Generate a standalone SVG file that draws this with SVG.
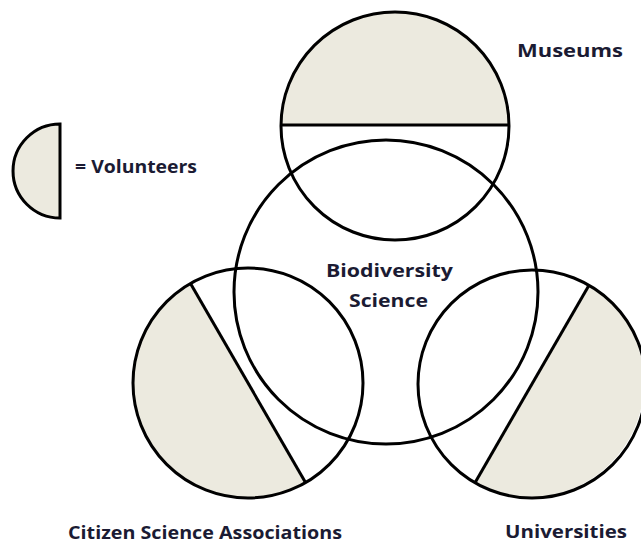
<svg xmlns="http://www.w3.org/2000/svg" width="641" height="546" viewBox="0 0 641 546">
<style>
.ring{fill:none;stroke:#000;stroke-width:3}
.half{fill:#ECEADF;stroke:none}
.chord{stroke:#000;stroke-width:3;fill:none}
.lbl{font-family:"Open Sans","Noto Sans","Liberation Sans",sans-serif;font-weight:bold;font-size:18px;fill:#1b1b33}
</style>
<rect width="641" height="546" fill="#fff"/>
<g id="legend">
<path d="M60,124 A47,47 0 0 0 60,218 Z" fill="#ECEADF" stroke="#000" stroke-width="3"/>
<text class="lbl" x="75" y="173" textLength="122" lengthAdjust="spacingAndGlyphs">= Volunteers</text>
</g>
<g id="museums">
<path class="half" d="M281,125 A114,114 0 0 1 509,125 Z"/>
<circle class="ring" cx="395" cy="126" r="114"/>
<line class="chord" x1="281" y1="125" x2="509" y2="125"/>
<text class="lbl" x="517" y="57" textLength="106" lengthAdjust="spacingAndGlyphs">Museums</text>
</g>
<g id="citizen">
<path class="half" d="M305.5,482.6 A115,115 0 0 1 190.5,283.4 Z"/>
<circle class="ring" cx="248" cy="383" r="115"/>
<line class="chord" x1="190.5" y1="283.4" x2="305.5" y2="482.6"/>
<text class="lbl" x="68" y="539" textLength="274" lengthAdjust="spacingAndGlyphs">Citizen Science  Associations</text>
</g>
<g id="universities">
<path class="half" d="M589,285.3 A114,114 0 0 1 475,482.7 Z"/>
<circle class="ring" cx="532" cy="384" r="114"/>
<line class="chord" x1="589" y1="285.3" x2="475" y2="482.7"/>
<text class="lbl" x="505" y="538" textLength="122" lengthAdjust="spacingAndGlyphs">Universities</text>
</g>
<g id="biodiversity">
<circle class="ring" cx="386" cy="292" r="152"/>
<text class="lbl" x="326" y="277" textLength="127" lengthAdjust="spacingAndGlyphs">Biodiversity</text>
<text class="lbl" x="349" y="307" textLength="79" lengthAdjust="spacingAndGlyphs">Science</text>
</g>
</svg>
